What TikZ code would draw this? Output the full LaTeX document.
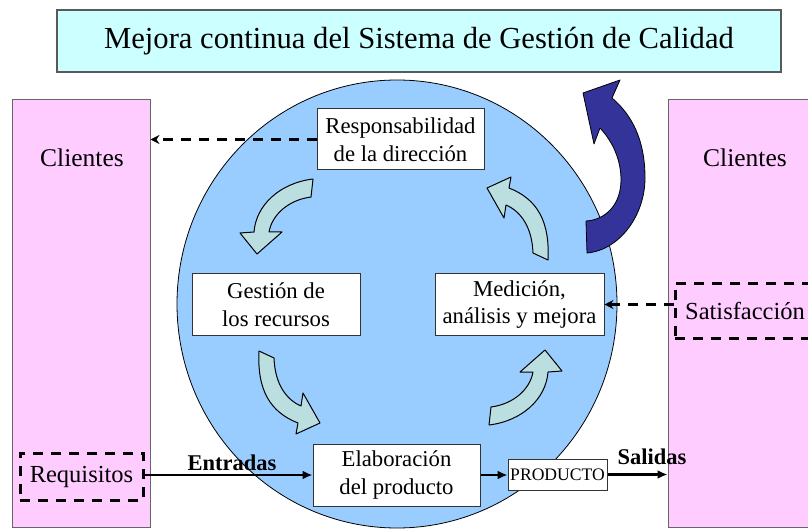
\documentclass[tikz,border=0pt]{standalone}
\usepackage{fontspec}
\setmainfont{Liberation Serif}
\usetikzlibrary{shapes.geometric,arrows.meta}
\definecolor{titlefill}{RGB}{204,255,255}
\definecolor{pinkfill}{RGB}{255,204,255}
\definecolor{circfill}{RGB}{153,204,255}
\definecolor{tealfill}{RGB}{187,223,225}
\definecolor{bigblue}{RGB}{51,51,153}
\tikzset{
  pinkbox/.style={draw=black!60, fill=pinkfill, line width=1pt, inner sep=0},
  whitebox/.style={draw=black!80, fill=white, line width=1pt, inner sep=0, align=center, font=\fontsize{22.7}{27.5}\selectfont},
  dashbox/.style={draw=black, dash pattern=on 10pt off 8pt, line width=3pt, inner sep=0, font=\fontsize{24.5}{28}\selectfont},
  dasharrow/.style={draw=black, dash pattern=on 10pt off 8pt, line width=3pt, -{Stealth[length=9pt,width=9pt]}},
  solidarrow/.style={draw=black, line width=2.5pt, -{Latex[length=10pt,width=9pt]}},
  turnarrow/.style={draw=black, fill=tealfill, line width=1pt, line join=round},
  biglabel/.style={font=\fontsize{25.5}{30}\selectfont},
  boldlabel/.style={font=\fontsize{22.5}{27}\selectfont\bfseries},
}
\begin{document}
\begin{tikzpicture}[x=1pt,y=-1pt]
\useasboundingbox (0,0) rectangle (808,529);
\fill[white] (0,0) rectangle (808,529);
% title
\node[draw=black!65, fill=titlefill, line width=1.2pt, minimum width=724pt, minimum height=62pt, inner sep=0,
      font=\fontsize{30.6}{36}\selectfont] (title) at (419,41) {Mejora continua del Sistema de Gestión de Calidad};
% customer columns
\node[pinkbox, minimum width=138pt, minimum height=427pt] (lp) at (81,313.5) {};
\node[pinkbox, minimum width=147pt, minimum height=427pt] (rp) at (741.5,313.5) {};
\node[biglabel] (cl1) at (82,158) {Clientes};
\node[biglabel] (cl2) at (745,158) {Clientes};
% central circle
\node[ellipse, draw=black, fill=circfill, line width=0.8pt, minimum width=440pt, minimum height=448pt, inner sep=0] (circ) at (397,304) {};
% big improvement arrow
\draw[fill=bigblue, draw=black, line width=0.8pt, line join=round]
  (587,253) .. controls (620,250) and (645,215) .. (645,178)
  .. controls (645,140) and (632,115) .. (612,98)
  -- (620,80) -- (583,93) -- (594,144) -- (600,128)
  .. controls (613,142) and (621,160) .. (621,180)
  .. controls (621,205) and (605,220) .. (586,221) -- cycle;
% cycle arrows
\def\arrowA{(313,179) .. controls (280,183) and (256,205) .. (254,232) -- (240,233) -- (257,254) -- (282,232) -- (269,232) .. controls (272,215) and (288,200) .. (311,197) -- cycle}
\def\arrowB{(259,351) -- (274,358) .. controls (275,385) and (287,400) .. (301,406) -- (303,393) -- (320,423) -- (296,434) -- (298,423) .. controls (270,412) and (257,390) .. (259,351) -- cycle}
\draw[turnarrow] \arrowA;
\draw[turnarrow] \arrowB;
\draw[turnarrow, rotate around={180:(401,302)}] \arrowA;
\draw[turnarrow, rotate around={180:(403.5,305.5)}] \arrowB;
% process boxes
\node[whitebox, minimum width=167pt, minimum height=61pt] (resp) at (400.5,139.5) {Responsabilidad\\de la dirección};
\node[whitebox, minimum width=168pt, minimum height=61pt] (gest) at (276,304.5) {Gestión de\\los recursos};
\node[whitebox, minimum width=169pt, minimum height=61pt] (med) at (519.5,304.5) {Medición,\\análisis y mejora};
\node[whitebox, minimum width=167pt, minimum height=62pt] (elab) at (396.5,475) {Elaboración\\del producto};
\node[whitebox, minimum width=99pt, minimum height=31pt, font=\fontsize{17.6}{20}\selectfont] (prod) at (557.5,474.5) {PRODUCTO};
% customer requirement / satisfaction
\node[dashbox, minimum width=123pt, minimum height=47pt] (req) at (81.5,476.5) {Requisitos};
\node[dashbox, minimum width=140pt, minimum height=55pt] (sat) at (745,310.5) {Satisfacción};
% connectors
\draw[dasharrow] (resp.west) -- (resp.west -| lp.east);
\draw[dasharrow] (sat.west |- med.east) -- (med.east);
\draw[solidarrow] (req.east |- elab.west) -- (elab.west);
\draw[solidarrow] (elab.east) -- (elab.east -| prod.west);
\draw[solidarrow] (prod.east) -- (prod.east -| rp.west);
\node[boldlabel] (ent) at (232,463) {Entradas};
\node[boldlabel] (sal) at (652,457) {Salidas};
\end{tikzpicture}
\end{document}
